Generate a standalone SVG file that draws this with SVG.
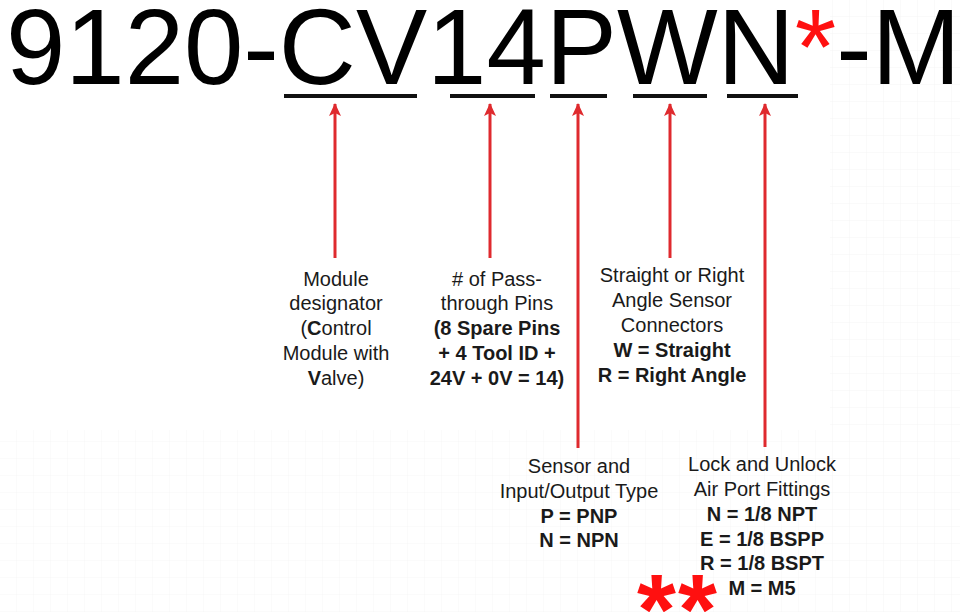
<svg xmlns="http://www.w3.org/2000/svg" width="960" height="612" viewBox="0 0 960 612">
<defs>
<style>
.t{font-family:"Liberation Sans",Arial,sans-serif;font-size:20px;fill:#1a1a1a;text-anchor:middle}
.b{font-weight:bold}
.ul{stroke:#111;stroke-width:4}
.ar{stroke:#DF2A2E;stroke-width:3;fill:none;marker-end:url(#ah)}
.gl{stroke:#ececec;stroke-width:1}
</style>
<marker id="ah" markerUnits="userSpaceOnUse" markerWidth="14" markerHeight="14" viewBox="0 0 14 14" refX="12" refY="7" orient="auto">
<path d="M0,1 L13,7 L0,13 L3,7 Z" fill="#DF2A2E"/>
</marker>
<pattern id="grid" width="17" height="17" patternUnits="userSpaceOnUse">
<path d="M17,0 V17 M0,17 H17" class="gl" fill="none"/>
</pattern>
</defs>
<rect width="960" height="612" fill="#fff"/>
<rect x="830" y="0" width="130" height="612" fill="url(#grid)" opacity="0.6"/>
<rect x="0" y="430" width="830" height="182" fill="url(#grid)" opacity="0.5"/>
<g id="title">
<text x="6" y="84" style="font-family:'Liberation Sans',Arial,sans-serif;font-size:106.7px;fill:#000">9120-CV14PWN<tspan fill="#FF1010">*</tspan>-M</text>
</g>
<g id="underlines">
<line class="ul" x1="284" y1="96" x2="417" y2="96"/>
<line class="ul" x1="450" y1="96" x2="535" y2="96"/>
<line class="ul" x1="550" y1="96" x2="607" y2="96"/>
<line class="ul" x1="633" y1="96" x2="707" y2="96"/>
<line class="ul" x1="727" y1="96" x2="798" y2="96"/>
</g>
<g id="connectors">
<path class="ar" d="M335,258 V104"/>
<path class="ar" d="M490,258 V104"/>
<path class="ar" d="M578,448 V104"/>
<path class="ar" d="M670,258 V104"/>
<path class="ar" d="M765,447 V104"/>
</g>
<g id="module">
<text class="t" x="336" y="286">Module</text>
<text class="t" x="336" y="310">designator</text>
<text class="t" x="336" y="335">(<tspan class="b">C</tspan>ontrol</text>
<text class="t" x="336" y="360">Module with</text>
<text class="t" x="336" y="385"><tspan class="b">V</tspan>alve)</text>
</g>
<g id="pins">
<text class="t" x="497" y="286"># of Pass-</text>
<text class="t" x="497" y="310">through Pins</text>
<text class="t b" x="497" y="335">(8 Spare Pins</text>
<text class="t b" x="497" y="360">+ 4 Tool ID +</text>
<text class="t b" x="497" y="385">24V + 0V = 14)</text>
</g>
<g id="connector-type">
<text class="t" x="672" y="282">Straight or Right</text>
<text class="t" x="672" y="307">Angle Sensor</text>
<text class="t" x="672" y="332">Connectors</text>
<text class="t b" x="672" y="357">W = Straight</text>
<text class="t b" x="672" y="382">R = Right Angle</text>
</g>
<g id="sensor">
<text class="t" x="579" y="473">Sensor and</text>
<text class="t" x="579" y="498">Input/Output Type</text>
<text class="t b" x="579" y="523">P = PNP</text>
<text class="t b" x="579" y="547">N = NPN</text>
</g>
<g id="fittings">
<text class="t" x="762" y="471">Lock and Unlock</text>
<text class="t" x="762" y="496">Air Port Fittings</text>
<text class="t b" x="762" y="521">N = 1/8 NPT</text>
<text class="t b" x="762" y="546">E = 1/8 BSPP</text>
<text class="t b" x="762" y="570">R = 1/8 BSPT</text>
<text class="t b" x="762" y="595">M = M5</text>
<text x="678" y="644" style="font-family:'Liberation Sans',Arial,sans-serif;font-size:100px;font-weight:bold;fill:#FF1010;text-anchor:middle;letter-spacing:2px">**</text>
</g>
</svg>
